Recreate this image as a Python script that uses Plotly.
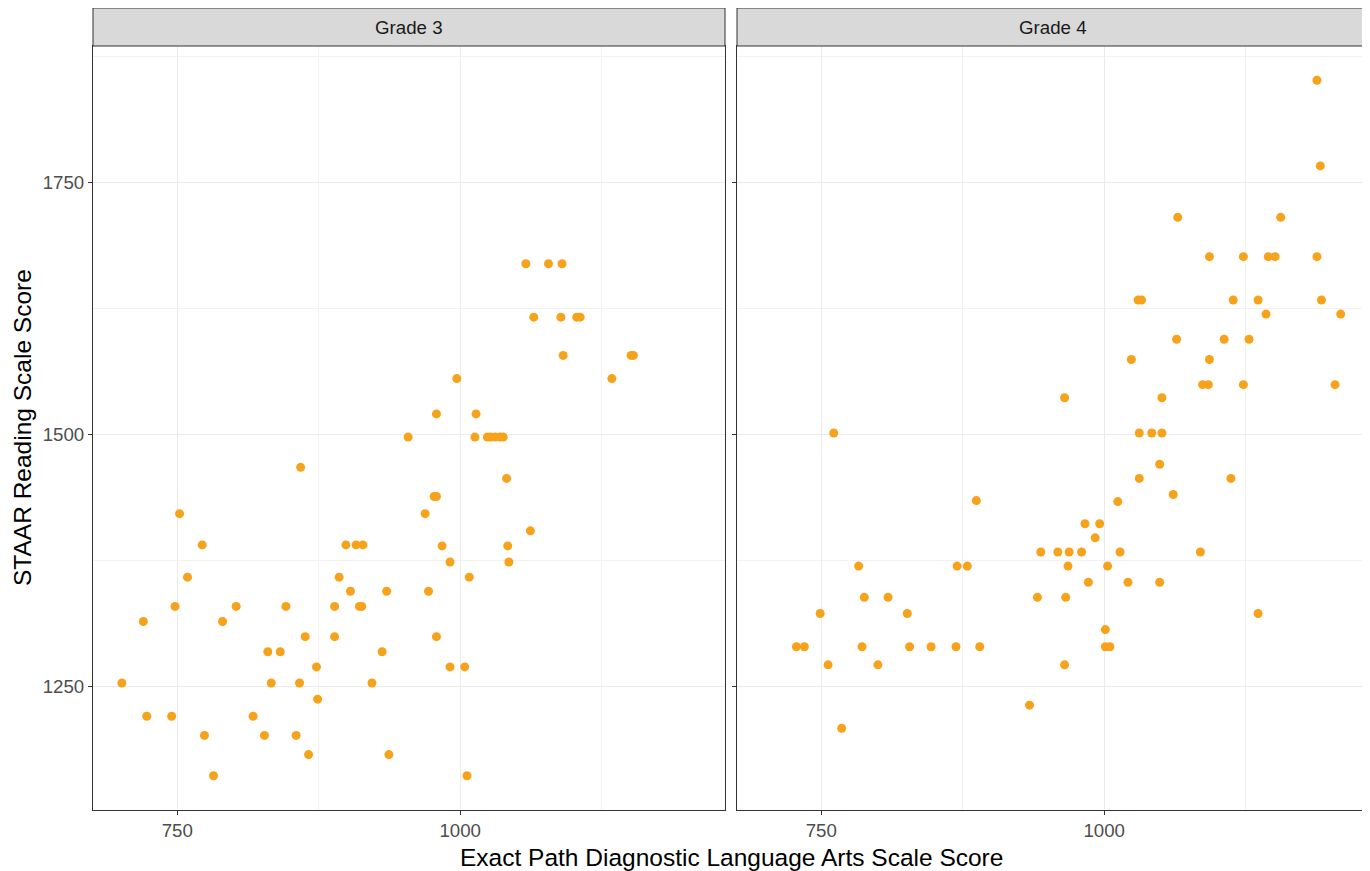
import plotly.graph_objects as go
from plotly.subplots import make_subplots

panels = ["Grade 3", "Grade 4"]

g3_x = [1058, 1078, 1090, 1065, 1089, 1103, 1106, 1091, 1151, 1153, 997, 1134,
        979, 1014, 954, 1013, 1024, 1027, 1031, 1035, 1038, 1041, 977, 979, 969,
        859, 752, 772, 899, 908, 914, 759, 893, 903, 935, 748, 802, 846, 889, 911,
        913, 720, 790, 863, 889, 830, 841, 931, 873, 701, 833, 858, 922, 874, 723,
        745, 817, 774, 827, 855, 866, 937, 782, 1062, 984, 1042, 991, 1043, 1008,
        972, 979, 991, 1004, 1006]
g3_y = [1669, 1669, 1669, 1616, 1616, 1616, 1616, 1578, 1578, 1578, 1555, 1555,
        1520, 1520, 1497, 1497, 1497, 1497, 1497, 1497, 1497, 1456, 1438, 1438, 1421,
        1467, 1421, 1390, 1390, 1390, 1390, 1358, 1358, 1344, 1344, 1329, 1329, 1329, 1329, 1329,
        1329, 1314, 1314, 1299, 1299, 1284, 1284, 1284, 1269, 1253, 1253, 1253, 1253, 1237, 1220,
        1220, 1220, 1201, 1201, 1201, 1182, 1182, 1161, 1404, 1389, 1389, 1373, 1373, 1358,
        1344, 1299, 1269, 1269, 1161]

g4_x = [1188, 1191, 1065, 1156, 1093, 1123, 1145, 1151, 1188, 1030, 1033, 1114,
        1136, 1192, 1143, 1209, 1064, 1106, 1128, 1024, 1093, 1087, 1092, 1123, 1204,
        965, 1051, 1031, 1042, 1051, 1049, 1031, 1112, 1061, 1012, 983, 996, 992,
        959, 969, 980, 1014, 1085, 968, 1003, 986, 1021, 1049, 966, 1136, 1001, 1001,
        1005, 965, 761, 887, 944, 783, 870, 879, 788, 809, 941, 749, 826, 728, 735,
        786, 828, 847, 869, 890, 756, 800, 934, 768]
g4_y = [1851, 1766, 1715, 1715, 1676, 1676, 1676, 1676, 1676, 1633, 1633, 1633,
        1633, 1633, 1619, 1619, 1594, 1594, 1594, 1574, 1574, 1549, 1549, 1549, 1549,
        1536, 1536, 1501, 1501, 1501, 1470, 1456, 1456, 1440, 1433, 1411, 1411, 1397,
        1383, 1383, 1383, 1383, 1383, 1369, 1369, 1353, 1353, 1353, 1338, 1322, 1306, 1289,
        1289, 1271, 1501, 1434, 1383, 1369, 1369, 1369, 1338, 1338, 1338, 1322, 1322, 1289, 1289,
        1289, 1289, 1289, 1289, 1289, 1271, 1271, 1231, 1208]

x_ticks = [750, 1000]
y_ticks = [1250, 1500, 1750]
x_range = [675.5, 1234]
y_range = [1127, 1885]

point_color = "#F7A21B"
font_family = "Liberation Sans, Arial, sans-serif"

fig = make_subplots(rows=1, cols=2, shared_yaxes=True, horizontal_spacing=12 / 1276)

for i, (xs, ys) in enumerate([(g3_x, g3_y), (g4_x, g4_y)]):
    fig.add_trace(go.Scatter(x=xs, y=ys, mode="markers",
                             marker=dict(color=point_color, size=9, line=dict(width=0)),
                             showlegend=False), row=1, col=i + 1)

axis_common = dict(
    showgrid=True, gridcolor="#EBEBEB", gridwidth=1.1,
    showline=True, mirror=True, linecolor="#333333", linewidth=1,
    ticks="outside", ticklen=4, tickcolor="#333333", tickwidth=1,
    tickfont=dict(size=18.7, color="#4D4D4D", family=font_family),
    zeroline=False,
    minor=dict(showgrid=True, gridcolor="#F2F2F2", gridwidth=0.7),
)

fig.update_xaxes(**axis_common, range=x_range, tickvals=x_ticks,
                 ticktext=[str(v) for v in x_ticks])
fig.update_xaxes(minor=dict(tickvals=[875, 1125], ticks=""))
fig.update_yaxes(**axis_common, range=y_range, tickvals=y_ticks,
                 ticktext=[str(v) for v in y_ticks])
fig.update_yaxes(minor=dict(tickvals=[1375, 1625, 1875], ticks=""))
fig.update_yaxes(showticklabels=False, row=1, col=2)

strip_h = 38 / 764
domains = [fig.layout.xaxis.domain, fig.layout.xaxis2.domain]
for name, dom in zip(panels, domains):
    fig.add_shape(type="rect", xref="paper", yref="paper",
                  x0=dom[0], x1=dom[1], y0=1, y1=1 + strip_h,
                  fillcolor="#D9D9D9", line=dict(color="#333333", width=1))
    fig.add_annotation(text=name, xref="paper", yref="paper",
                       x=(dom[0] + dom[1]) / 2, y=1 + strip_h / 2,
                       showarrow=False, xanchor="center", yanchor="middle",
                       font=dict(size=18.7, color="#1A1A1A", family=font_family))

fig.add_annotation(text="Exact Path Diagnostic Language Arts Scale Score",
                   xref="paper", yref="paper", x=0.5, y=0, yshift=-47,
                   showarrow=False, xanchor="center", yanchor="middle",
                   font=dict(size=24.5, color="#000000", family=font_family))
fig.add_annotation(text="STAAR Reading Scale Score", textangle=-90,
                   xref="paper", yref="paper", x=0, xshift=-71, y=0.5,
                   showarrow=False, xanchor="center", yanchor="middle",
                   font=dict(size=24.5, color="#000000", family=font_family))

fig.update_layout(
    width=1362, height=863,
    margin=dict(l=85, r=1, t=38, b=61),
    paper_bgcolor="white", plot_bgcolor="white",
    font=dict(family=font_family),
    showlegend=False,
)

fig.write_html("out.html")
